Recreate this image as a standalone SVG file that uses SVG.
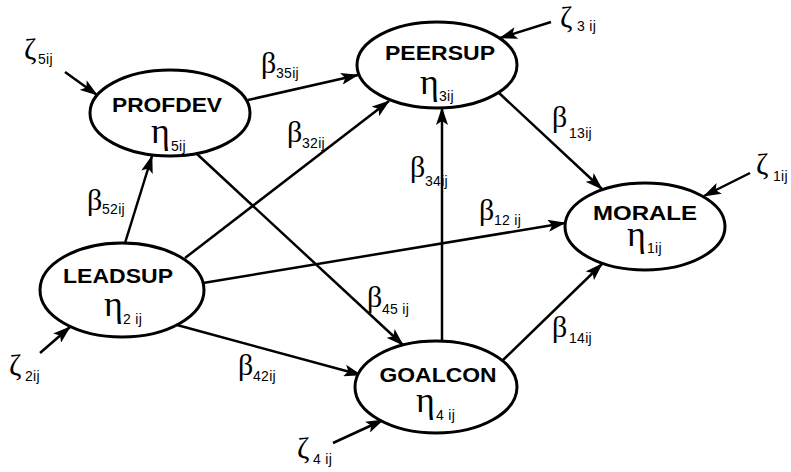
<svg xmlns="http://www.w3.org/2000/svg" width="791" height="472" viewBox="0 0 791 472">
<style>
.node ellipse{fill:#fff;stroke:#000;stroke-width:3}
.nm{font-family:"Liberation Sans",Arial,sans-serif;font-weight:bold;font-size:21px;text-anchor:middle;fill:#000}
.gr{font-family:"Liberation Serif","Times New Roman",serif;font-size:36px;fill:#000}
.bt{font-family:"Liberation Serif","Times New Roman",serif;font-size:30px;fill:#000}
.sb{font-family:"Liberation Sans",Arial,sans-serif;font-size:14px;fill:#000;letter-spacing:0.3px}
#connectors line{stroke:#000;stroke-width:2.5;fill:none;marker-end:url(#ah)}
</style>
<defs>
<marker id="ah" markerUnits="userSpaceOnUse" viewBox="0 0 18 12" refX="17" refY="6" markerWidth="18" markerHeight="12" orient="auto">
<path d="M0,0 L18,6 L0,12 L4,6 z" fill="#000"/>
</marker>
</defs>
<rect width="791" height="472" fill="#fff"/>
<g id="connectors">
<line x1="65" y1="72" x2="97" y2="95"/>
<line x1="551" y1="22" x2="500" y2="38"/>
<line x1="750" y1="173" x2="704" y2="196"/>
<line x1="40" y1="353" x2="70" y2="327"/>
<line x1="333" y1="443" x2="383" y2="420"/>
<line x1="248" y1="100" x2="358" y2="75"/>
<line x1="185" y1="258" x2="389" y2="101"/>
<line x1="125" y1="243" x2="152" y2="156"/>
<line x1="203" y1="283" x2="565" y2="223"/>
<line x1="177" y1="325" x2="361" y2="375"/>
<line x1="197" y1="154" x2="403" y2="345"/>
<line x1="442" y1="341" x2="442" y2="108"/>
<line x1="499" y1="93" x2="602" y2="189"/>
<line x1="503" y1="360" x2="602" y2="264"/>
</g>
<g id="profdev" class="node">
<ellipse cx="170" cy="113" rx="80" ry="43"/>
<text class="nm" x="167" y="112" textLength="110" lengthAdjust="spacingAndGlyphs">PROFDEV</text>
<text class="gr" x="151" y="143">η<tspan class="sb" x="171" y="151">5ij</tspan></text>
</g>
<g id="peersup" class="node">
<ellipse cx="437" cy="65" rx="80" ry="43"/>
<text class="nm" x="440" y="60" textLength="110" lengthAdjust="spacingAndGlyphs">PEERSUP</text>
<text class="gr" x="420" y="94">η<tspan class="sb" x="439" y="101">3ij</tspan></text>
</g>
<g id="morale" class="node">
<ellipse cx="645" cy="226.5" rx="80" ry="43.5"/>
<text class="nm" x="645" y="220" textLength="104" lengthAdjust="spacingAndGlyphs">MORALE</text>
<text class="gr" x="627" y="246">η<tspan class="sb" x="647" y="253">1ij</tspan></text>
</g>
<g id="leadsup" class="node">
<ellipse cx="122" cy="290" rx="82" ry="47"/>
<text class="nm" x="118" y="283" textLength="110" lengthAdjust="spacingAndGlyphs">LEADSUP</text>
<text class="gr" x="104" y="316">η<tspan class="sb" x="123" y="324">2 ij</tspan></text>
</g>
<g id="goalcon" class="node">
<ellipse cx="436" cy="387" rx="81" ry="46"/>
<text class="nm" x="438" y="382" textLength="117" lengthAdjust="spacingAndGlyphs">GOALCON</text>
<text class="gr" x="416" y="412">η<tspan class="sb" x="436" y="420">4 ij</tspan></text>
</g>
<g id="labels">
<text class="bt" x="261" y="73">β<tspan class="sb" x="276" y="78">35ij</tspan></text>
<text class="bt" x="287" y="142">β<tspan class="sb" x="302" y="148">32ij</tspan></text>
<text class="bt" x="87" y="210">β<tspan class="sb" x="102" y="214">52ij</tspan></text>
<text class="bt" x="410" y="177">β<tspan class="sb" x="425" y="186">34ij</tspan></text>
<text class="bt" x="479" y="220">β<tspan class="sb" x="494" y="225">12 ij</tspan></text>
<text class="bt" x="552" y="127">β<tspan class="sb" x="569" y="138">13ij</tspan></text>
<text class="bt" x="367" y="307">β<tspan class="sb" x="382" y="314">45 ij</tspan></text>
<text class="bt" x="552" y="337">β<tspan class="sb" x="569" y="343">14ij</tspan></text>
<text class="bt" x="238" y="375">β<tspan class="sb" x="253" y="381">42ij</tspan></text>
<text class="bt" x="24" y="59">ζ<tspan class="sb" x="38" y="64">5ij</tspan></text>
<text class="bt" x="560" y="27">ζ<tspan class="sb" x="577" y="31">3 ij</tspan></text>
<text class="bt" x="756" y="174">ζ<tspan class="sb" x="773" y="181">1ij</tspan></text>
<text class="bt" x="9" y="375">ζ<tspan class="sb" x="25" y="381">2ij</tspan></text>
<text class="bt" x="297" y="458">ζ<tspan class="sb" x="313" y="464">4 ij</tspan></text>
</g>
</svg>
